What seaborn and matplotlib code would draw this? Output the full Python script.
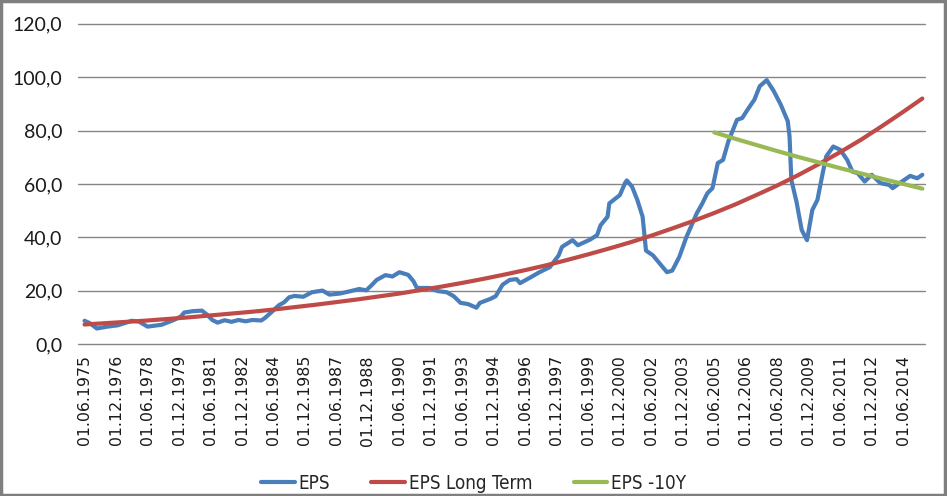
import matplotlib
matplotlib.use("Agg")
import matplotlib.pyplot as plt
import seaborn as sns
import pandas as pd
from matplotlib.patches import Rectangle

# EPS (month -> value)
eps_dates = [
    "1975-06", "1975-09", "1976-01", "1976-07", "1977-01", "1977-09", "1978-01", "1978-06",
    "1979-02", "1979-09", "1980-01", "1980-03", "1980-08", "1981-01", "1981-04", "1981-07",
    "1981-10", "1982-02", "1982-06", "1982-10", "1983-02", "1983-06", "1983-11", "1984-01",
    "1984-05", "1984-09", "1984-12", "1985-03", "1985-06", "1985-11", "1986-04", "1986-10",
    "1987-02", "1987-08", "1988-02", "1988-07", "1988-11", "1989-02", "1989-05", "1989-10",
    "1990-02", "1990-06", "1990-11", "1991-02", "1991-04", "1991-11", "1992-04", "1992-09",
    "1993-01", "1993-05", "1993-09", "1994-02", "1994-04", "1994-10", "1995-01", "1995-05",
    "1995-09", "1996-01", "1996-03", "1996-09", "1997-02", "1997-08", "1998-01", "1998-03",
    "1998-09", "1998-12", "1999-07", "1999-11", "2000-01", "2000-05", "2000-06", "2000-12",
    "2001-03", "2001-04", "2001-07", "2001-10", "2002-01", "2002-03", "2002-07", "2002-11",
    "2003-03", "2003-06", "2003-10", "2004-02", "2004-08", "2004-11", "2005-02", "2005-05",
    "2005-08", "2005-11", "2006-02", "2006-07", "2006-10", "2007-01", "2007-05", "2007-08",
    "2007-12", "2008-04", "2008-08", "2008-12", "2009-01", "2009-02", "2009-05", "2009-08",
    "2009-11", "2010-02", "2010-05", "2010-08", "2010-10", "2011-02", "2011-06", "2011-10",
    "2012-01", "2012-04", "2012-08", "2012-12", "2013-05", "2013-10", "2013-12", "2014-04",
    "2014-10", "2015-02", "2015-05",
]
eps_values = [
    8.7, 7.8, 5.8, 6.5, 7.0, 8.7, 8.4, 6.5,
    7.2, 9.0, 10.3, 11.8, 12.3, 12.5, 11.0, 9.0,
    8.0, 8.9, 8.3, 9.0, 8.5, 9.0, 8.8, 9.7,
    12.0, 14.5, 15.6, 17.5, 18.0, 17.7, 19.4, 20.0,
    18.5, 18.9, 19.8, 20.6, 20.1, 22.0, 24.0, 25.8,
    25.3, 26.9, 25.9, 23.5, 21.0, 21.0, 19.8, 19.4,
    17.9, 15.4, 15.0, 13.6, 15.4, 16.9, 17.9, 22.2,
    24.0, 24.3, 22.8, 25.0, 26.9, 28.8, 33.2, 36.4,
    38.9, 37.0, 39.1, 40.8, 44.5, 47.7, 52.7, 55.8,
    60.3, 61.3, 59.0, 54.0, 47.7, 35.0, 33.2, 30.0,
    26.9, 27.5, 32.6, 40.0, 49.0, 52.5, 56.5, 58.4,
    67.8, 69.0, 75.9, 84.0, 84.7, 87.8, 91.6, 96.6,
    98.9, 94.8, 89.7, 83.5, 77.8, 61.5, 53.4, 42.7,
    38.9, 50.2, 54.0, 64.0, 70.3, 74.0, 72.8, 69.0,
    64.6, 64.0, 60.9, 63.4, 60.3, 59.6, 58.4, 60.3,
    63.0, 62.1, 63.4,
]

# EPS Long Term (yearly readings of the trend curve)
lt_dates = [
    "1975-06", "1976-06", "1977-06", "1978-06", "1979-06", "1980-06", "1981-06", "1982-06",
    "1983-06", "1984-06", "1985-06", "1986-06", "1987-06", "1988-06", "1989-06", "1990-06",
    "1991-06", "1992-06", "1993-06", "1994-06", "1995-06", "1996-06", "1997-06", "1998-06",
    "1999-06", "2000-06", "2001-06", "2002-06", "2003-06", "2004-06", "2005-06", "2006-06",
    "2007-06", "2008-06", "2009-06", "2010-06", "2011-06", "2012-06", "2013-06", "2014-06",
    "2015-05",
]
lt_values = [
    7.3, 7.8, 8.3, 8.8, 9.4, 10.0, 10.7, 11.4,
    12.1, 12.9, 13.8, 14.7, 15.7, 16.7, 17.8, 18.9,
    20.2, 21.5, 22.9, 24.4, 26.0, 27.7, 29.5, 31.5,
    33.6, 35.8, 38.1, 40.6, 43.3, 46.1, 49.1, 52.3,
    55.8, 59.4, 63.3, 67.5, 71.9, 76.6, 81.7, 87.0,
    92.0,
]

# EPS -10Y
y10_dates = ["2005-06", "2006-06", "2007-06", "2008-06", "2009-06", "2010-06",
             "2011-06", "2012-06", "2013-06", "2014-06", "2015-05"]
y10_values = [79.3, 76.9, 74.6, 72.3, 70.1, 68.0, 65.9, 63.9, 61.9, 60.0, 58.2]

tick_labels = [
    "01.06.1975", "01.12.1976", "01.06.1978", "01.12.1979", "01.06.1981", "01.12.1982",
    "01.06.1984", "01.12.1985", "01.06.1987", "01.12.1988", "01.06.1990", "01.12.1991",
    "01.06.1993", "01.12.1994", "01.06.1996", "01.12.1997", "01.06.1999", "01.12.2000",
    "01.06.2002", "01.12.2003", "01.06.2005", "01.12.2006", "01.06.2008", "01.12.2009",
    "01.06.2011", "01.12.2012", "01.06.2014",
]

sns.set_style("white")
plt.rcParams["font.family"] = ["DejaVu Sans"]

fig = plt.figure(figsize=(9.47, 4.96), dpi=100)
ax = fig.add_axes([0.082, 0.3065, 0.895, 0.6455])

grid_c = "#868686"
for v in range(0, 121, 20):
    ax.axhline(v, color=grid_c, lw=1.0, zorder=0, clip_on=False)

blue, red, green = "#4A7EBB", "#BE4B48", "#98B954"
sns.lineplot(x=pd.to_datetime(eps_dates), y=eps_values, ax=ax, color=blue, lw=3, label="EPS")
sns.lineplot(x=pd.to_datetime(lt_dates), y=lt_values, ax=ax, color=red, lw=3, label="EPS Long Term")
sns.lineplot(x=pd.to_datetime(y10_dates), y=y10_values, ax=ax, color=green, lw=3, label="EPS -10Y")

ax.set_ylim(0, 120)
ax.set_yticks(range(0, 121, 20))
ax.set_yticklabels([f"{v:.1f}".replace(".", ",") for v in range(0, 121, 20)],
                   fontsize=14, family=["Lato", "DejaVu Sans"], color="#1a1a1a")

tick_pos = pd.to_datetime(["%s-%s-01" % (t[6:], t[3:5]) for t in tick_labels])
ax.set_xticks(tick_pos)
ax.set_xticklabels(tick_labels, rotation=90, fontsize=11.3, color="#1a1a1a")
ax.set_xlim(pd.Timestamp("1975-02-01"), pd.Timestamp("2015-06-20"))
ax.set_xlabel("")
ax.set_ylabel("")
ax.tick_params(axis="y", length=0, pad=11)
ax.tick_params(axis="x", length=0, pad=8)
for s in ax.spines.values():
    s.set_visible(False)

ax.get_legend().remove()
h, l = ax.get_legend_handles_labels()
fig.legend(h, l, loc="lower center", bbox_to_anchor=(0.5, -0.028), ncol=3, frameon=False,
           prop={"family": "DejaVu Sans", "stretch": "condensed", "size": 13.5},
           handlelength=1.8, columnspacing=2.2, handletextpad=0.2)

fig.patches.append(Rectangle((0.001, 0.002), 0.997, 0.996, transform=fig.transFigure,
                             fill=False, edgecolor="#7f7f7f", lw=2.5))

fig.savefig("out.png", dpi=100)
